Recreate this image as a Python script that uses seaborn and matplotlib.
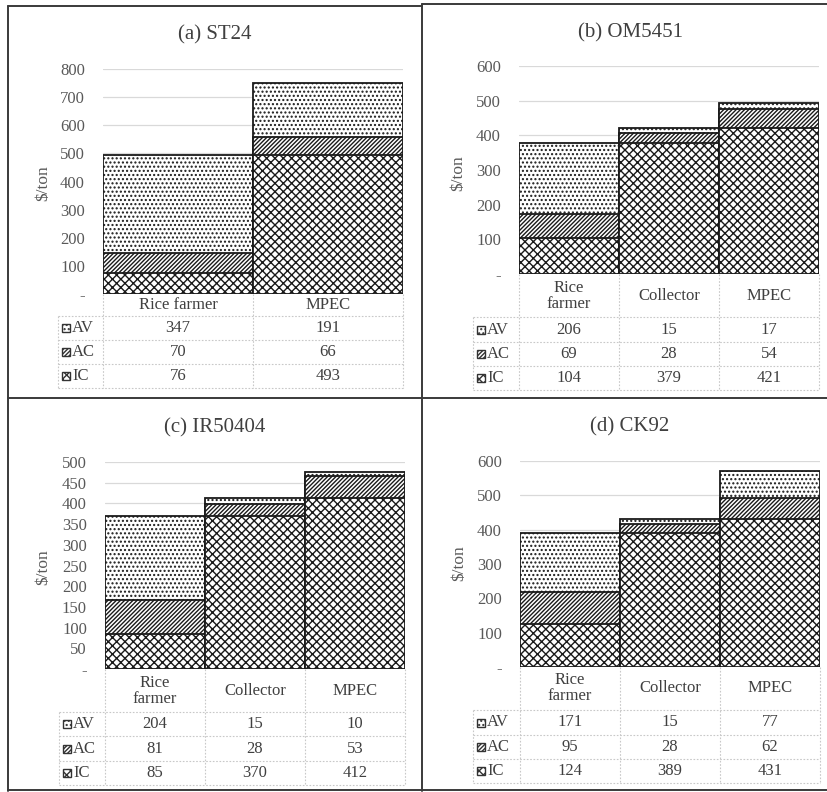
import matplotlib
matplotlib.use('Agg')
import matplotlib.pyplot as plt
from matplotlib.patches import Rectangle
from matplotlib.lines import Line2D
import seaborn as sns

# cost build-up per stage ($/ton)
stages_2 = ['Rice farmer', 'MPEC']
stages_3 = ['Rice\nfarmer', 'Collector', 'MPEC']
series = ['AV', 'AC', 'IC']

st24_ic = [76, 493]
st24_ac = [70, 66]
st24_av = [347, 191]

om5451_ic = [104, 379, 421]
om5451_ac = [69, 28, 54]
om5451_av = [206, 15, 17]

ir50404_ic = [85, 370, 412]
ir50404_ac = [81, 28, 53]
ir50404_av = [204, 15, 10]

ck92_ic = [124, 389, 431]
ck92_ac = [95, 28, 62]
ck92_av = [171, 15, 77]

W, H = 828, 792
sns.set_theme(style='white')
plt.rcParams['font.family'] = ['Liberation Serif', 'DejaVu Serif']
plt.rcParams['hatch.linewidth'] = 1.0

fig = plt.figure(figsize=(W / 100, H / 100), dpi=100)

HATCH = {'AV': '....', 'AC': '/' * 8, 'IC': 'xxxx'}
TXT = '#404040'
GRID = '#d9d9d9'


def add_bars(ax, cats, vals, key):
    sns.barplot(x=cats, y=vals, color='white', width=1, edgecolor='#1a1a1a',
                linewidth=1.3, hatch=HATCH[key], errorbar=None, saturation=1, ax=ax)


def panel(title, cats, ic, ac, av, ymax, step, box):
    l, r, top, base, labl, rows, tx, ty, yx, yy = box
    n = len(cats)
    ax = fig.add_axes([l / W, 1 - base / H, (r - l) / W, (base - top) / H])

    # stacked look: draw cumulative totals, lower layers on top
    tot = [a + b + c for a, b, c in zip(ic, ac, av)]
    mid = [a + b for a, b in zip(ic, ac)]
    add_bars(ax, cats, tot, 'AV')
    add_bars(ax, cats, mid, 'AC')
    add_bars(ax, cats, ic, 'IC')

    ax.set_xlim(-0.5, n - 0.5)
    ax.set_ylim(0, ymax)
    ticks = list(range(0, ymax + 1, step))
    ax.set_yticks(ticks)
    ax.set_yticklabels(['-' if t == 0 else str(t) for t in ticks])
    ax.set_xticks([])
    ax.set_xlabel('')
    ax.set_ylabel('')
    ax.tick_params(axis='y', length=0, pad=13, labelsize=12, labelcolor='#595959')
    for s in ax.spines.values():
        s.set_visible(False)
    ax.yaxis.grid(True, color=GRID, lw=0.9)
    ax.set_axisbelow(True)
    ax.patch.set_alpha(0)

    fig.text(tx / W, 1 - ty / H, title, ha='center', va='center', fontsize=15, color=TXT)
    fig.text(yx / W, 1 - yy / H, '$/ton', ha='center', va='center', rotation=90,
             fontsize=12.5, color='#595959')

    # data table underneath
    tax = fig.add_axes([labl / W, 1 - rows[-1] / H, (r - labl) / W, (rows[-1] - rows[0]) / H])
    tax.set_xlim(labl, r)
    tax.set_ylim(rows[-1], rows[0])
    tax.axis('off')
    cw = (r - l) / n
    xs = [l + i * cw for i in range(n + 1)]
    lk = dict(color='#c8c8c8', lw=0.8, ls=(0, (1.5, 1.5)), clip_on=False)
    for x in xs:
        tax.plot([x, x], [rows[0], rows[-1]], **lk)
    tax.plot([labl, labl], [rows[1], rows[-1]], **lk)
    for y in rows[1:]:
        tax.plot([labl, r], [y, y], **lk)
    for i, c in enumerate(cats):
        tax.text(l + (i + 0.5) * cw, (rows[0] + rows[1]) / 2, c, ha='center', va='center',
                 fontsize=12, color=TXT, linespacing=1.0)
    data = {'AV': av, 'AC': ac, 'IC': ic}
    for j, key in enumerate(series):
        yc = (rows[j + 1] + rows[j + 2]) / 2
        sw = Rectangle((labl + 4, yc - 4), 8, 8, facecolor='white', edgecolor='#333333',
                       lw=1.0, hatch=HATCH[key], clip_on=False)
        tax.add_patch(sw)
        tax.text(labl + 14, yc, key, ha='left', va='center', fontsize=12, color=TXT)
        for i, v in enumerate(data[key]):
            tax.text(l + (i + 0.5) * cw, yc, str(v), ha='center', va='center',
                     fontsize=12, color=TXT)


panel('(a) ST24', stages_2, st24_ic, st24_ac, st24_av, 800, 100,
      (103, 403, 69, 294, 58, [294, 316, 340, 364, 388], 215, 35, 43, 183))
panel('(b) OM5451', stages_3, om5451_ic, om5451_ac, om5451_av, 600, 100,
      (519, 819, 66, 274, 473, [274, 317, 342, 366, 390], 631, 33, 458, 173))
panel('(c) IR50404', stages_3, ir50404_ic, ir50404_ac, ir50404_av, 500, 50,
      (105, 405, 462, 669, 59, [669, 712, 736, 761, 785], 215, 428, 43, 567))
panel('(d) CK92', stages_3, ck92_ic, ck92_ac, ck92_av, 600, 100,
      (520, 820, 461, 667, 473, [667, 710, 735, 759, 783], 630, 427, 459, 563))

# panel frames
frame = dict(color='#3a3a3a', lw=1.4, transform=fig.transFigure)
for (x0, y0, x1, y1) in [(8, 6, 8, 791), (422, 4, 422, 791), (8, 6, 422, 6), (422, 4, 828, 4),
                         (8, 398, 828, 398), (8, 790, 828, 790)]:
    fig.add_artist(Line2D([x0 / W, x1 / W], [1 - y0 / H, 1 - y1 / H], **frame))

fig.savefig('out.png', dpi=100)
